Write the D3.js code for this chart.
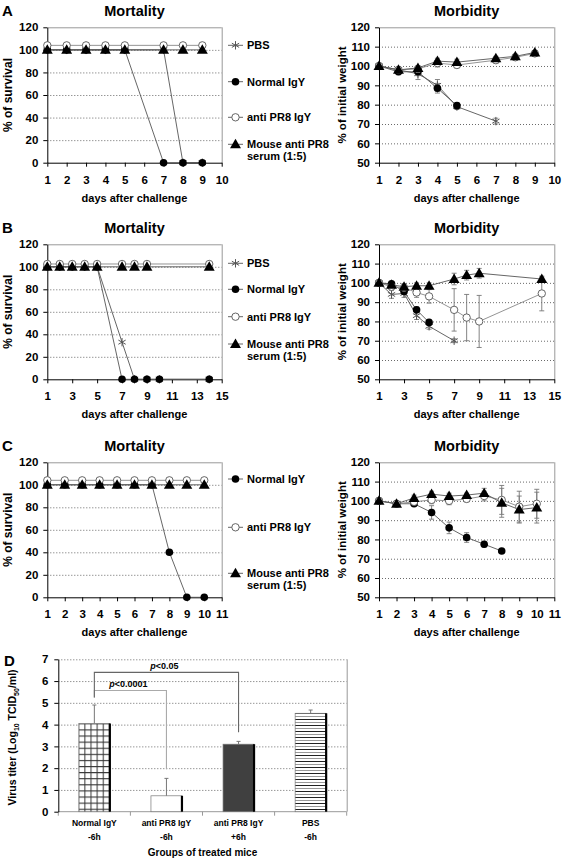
<!DOCTYPE html>
<html><head><meta charset="utf-8">
<script src="https://cdn.jsdelivr.net/npm/d3@7"></script>
<style>
body{margin:0;background:#fff}
svg{display:block;font-family:Arial,"Liberation Sans",sans-serif;font-weight:bold}
</style>
</head><body>
<svg id="c" width="563" height="861"></svg>
<script>
// ---------------- DATA ----------------
// Tick labels
const xTicksA = [1,2,3,4,5,6,7,8,9,10];
const xTicksB = [1,3,5,7,9,11,13,15];
const xTicksC = [1,2,3,4,5,6,7,8,9,10,11];
const yTicksSurv = [0,20,40,60,80,100,120];
const yTicksWeight = [50,60,70,80,90,100,110,120];
const yTicksTiter = [0,1,2,3,4,5,6,7];
const legendLabels = ["PBS","Normal IgY","anti PR8 IgY","Mouse anti PR8|serum (1:5)"];

// Panel A – Mortality
const daysA = [1,2,3,4,5,7,8,9];
const survA_PBS    = [100,100,100,100,100,100,0,0];
const survA_Normal = [100,100,100,100,100,0,0,0];
const survA_Anti   = [104,104,104,104,104,104,104,104];
const survA_Mouse  = [100,100,100,100,100,100,100,100];
// Panel A – Morbidity
const wDaysA_PBS = [1,2,3,4,5,7];
const wA_PBS  = [100,98,96,90,79,71.5];
const eA_PBS  = [0,1.5,3,3,1.5,1.5];
const wDaysA_Normal = [1,2,3,4,5];
const wA_Normal = [100,97,97,88.5,79.5];
const eA_Normal = [0,1.5,2,2.5,1.5];
const wDaysA_Other = [1,2,3,4,5,7,8,9];
const wA_Anti  = [100,98,98.5,101.5,100.5,103,104.5,106.5];
const eA_Anti  = [0,1,1,2,1.5,1.5,1.5,1.5];
const wA_Mouse = [100,98,99,102.5,102,104,105,107];
const eA_Mouse = [0,1,1,1.5,1.5,1,1,1];

// Panel B – Mortality
const daysB = [1,2,3,4,5,7,8,9,10,14];
const survB_PBS    = [100,100,100,100,100,33,0,0,0,0];
const survB_Normal = [100,100,100,100,100,0,0,0,0,0];
const daysB_Other = [1,2,3,4,5,7,8,9,14];
const survB_Anti   = [102.5,102.5,102.5,102.5,102.5,102.5,102.5,102.5,102.5];
const survB_Mouse  = [100,100,100,100,100,100,100,100,100];
// Panel B – Morbidity
const wDaysB_PBS = [1,2,3,4,5,7];
const wB_PBS  = [100,94,94.5,83,77.5,70];
const eB_PBS  = [0,2,2,2,1.5,1];
const wDaysB_Normal = [1,2,3,4,5];
const wB_Normal = [100,99.5,95.5,86,79.5];
const eB_Normal = [0,1,1.5,1.5,1];
const wDaysB_Other = [1,2,3,4,5,7,8,9,14];
const wB_Anti  = [100,98,97.5,95,93,86,82,80,94.5];
const eB_Anti  = [0,1.5,2,2.5,3.5,11,12,13.5,9];
const wB_Mouse = [100,99,98,98.5,98.5,102,104,105,102];
const eB_Mouse = [0,1,1.5,1.5,1.5,3,2.5,2.5,1];

// Panel C – Mortality
const daysC = [1,2,3,4,5,6,7,8,9,10];
const survC_Normal = [100,100,100,100,100,100,100,40,0,0];
const survC_Anti   = [104,104,104,104,104,104,104,104,104,104];
const survC_Mouse  = [100,100,100,100,100,100,100,100,100,100];
// Panel C – Morbidity
const wDaysC_Normal = [1,2,3,4,5,6,7,8];
const wC_Normal = [100,98.5,98.5,94,86,81,77.5,74];
const eC_Normal = [0,1,1,3.5,3,2.5,1.5,0.5];
const wDaysC_Other = [1,2,3,4,5,6,7,8,9,10];
const wC_Anti  = [100,98.5,99.5,100.5,100,101,102.5,100.5,97,98.5];
const eC_Anti  = [0,1,1,2,2,1.5,2.5,7.5,8,7.5];
const wC_Mouse = [100,98.5,101.5,103.5,102.5,103,104,99,95.5,96.5];
const eC_Mouse = [0,1,1.5,1.5,1.5,1,2.5,7.5,7,8];

// Panel D – virus titer
const groupLine1 = ["Normal IgY","anti PR8 IgY","anti PR8 IgY","PBS"];
const groupLine2 = ["-6h","-6h","+6h","-6h"];
const titers   = [4.05,0.73,3.1,4.52];
const titerErr = [0.85,0.8,0.13,0.15];
const patterns = ["grid","white","dark","hlines"];
const pLabels  = ["<0.0001","<0.05"];
const pFrom    = [0,0];
const pTo      = [1,2];
const pLevel   = [5.57,6.4];
const pLeftEnd = [5.25,5.25];
const pRightEnd= [1.95,3.65];

// ---------------- DRAW ----------------
const svg = d3.select("#c");
const lineCol = "#555";

function marker(g, type, cx, cy){
  if(type==="star"){
    const s=4.2;
    const m = g.append("g").attr("stroke","#555").attr("stroke-width",1);
    m.append("line").attr("x1",cx).attr("x2",cx).attr("y1",cy-s).attr("y2",cy+s);
    m.append("line").attr("x1",cx-s*0.87).attr("x2",cx+s*0.87).attr("y1",cy-s*0.5).attr("y2",cy+s*0.5);
    m.append("line").attr("x1",cx-s*0.87).attr("x2",cx+s*0.87).attr("y1",cy+s*0.5).attr("y2",cy-s*0.5);
  } else if(type==="dot"){
    g.append("circle").attr("cx",cx).attr("cy",cy).attr("r",3.8).attr("fill","#000");
  } else if(type==="ring"){
    g.append("circle").attr("cx",cx).attr("cy",cy).attr("r",3.7).attr("fill","#fff").attr("stroke","#555").attr("stroke-width",0.9);
  } else if(type==="tri"){
    g.append("path").attr("d",d3.symbol(d3.symbolTriangle,52)()).attr("transform",`translate(${cx},${cy+0.8})`).attr("fill","#000");
  }
}

function linePanel(cfg){
  const x = d3.scaleLinear().domain(cfg.xDomain).range([cfg.x0,cfg.x1]);
  const y = d3.scaleLinear().domain(cfg.yDomain).range([cfg.y1,cfg.y0]);
  const g = svg.append("g");
  g.append("text").attr("x",(cfg.x0+cfg.x1)/2).attr("y",cfg.y0-11).attr("text-anchor","middle")
    .attr("font-size",14.5).text(cfg.title);
  if(cfg.letter) g.append("text").attr("x",2).attr("y",cfg.y0-11).attr("font-size",15).text(cfg.letter);
  // top border
  g.append("line").attr("x1",cfg.x0).attr("x2",cfg.x1).attr("y1",cfg.y0+0.5).attr("y2",cfg.y0+0.5)
    .attr("stroke","#999").attr("stroke-width",1);
  // grid
  g.selectAll(".gl").data(cfg.yTicks.slice(1,-1)).enter().append("line")
    .attr("x1",cfg.x0).attr("x2",cfg.x1).attr("y1",d=>y(d)+0.5).attr("y2",d=>y(d)+0.5)
    .attr("stroke","#444").attr("stroke-width",0.8).attr("stroke-dasharray","1,2");
  g.append("line").attr("x1",cfg.x1+0.5).attr("x2",cfg.x1+0.5).attr("y1",cfg.y0).attr("y2",cfg.y1)
    .attr("stroke","#999").attr("stroke-width",1);
  const ya = g.append("g").attr("transform",`translate(${cfg.x0},0)`)
    .call(d3.axisLeft(y).tickValues(cfg.yTicks).tickFormat(d3.format("d")).tickSize(4).tickPadding(5).tickSizeOuter(0));
  const xa = g.append("g").attr("transform",`translate(0,${cfg.y1})`)
    .call(d3.axisBottom(x).tickValues(cfg.xTicks).tickFormat(d3.format("d")).tickSize(4).tickPadding(9).tickSizeOuter(0));
  [ya,xa].forEach(a=>{a.attr("font-family",null).attr("font-size",null);
    a.selectAll("text").attr("font-size",11.5).attr("fill","#000");
    a.selectAll("line,path").attr("stroke","#000");});
  g.append("text").attr("x",(cfg.x0+cfg.x1)/2).attr("y",cfg.y1+39).attr("text-anchor","middle")
    .attr("font-size",11).text("days after challenge");
  g.append("text").attr("transform",`translate(${cfg.ylx},${(cfg.y0+cfg.y1)/2}) rotate(-90)`)
    .attr("text-anchor","middle").attr("font-size",cfg.ylSize).text(cfg.ylabel);
  const lineGen = d3.line().x(d=>x(d[0])).y(d=>y(d[1]));
  cfg.series.forEach(s=>{
    const pts = s.days.map((d,i)=>[d,s.vals[i]]);
    g.append("path").attr("d",lineGen(pts)).attr("fill","none").attr("stroke",s.color||lineCol).attr("stroke-width",0.9);
  });
  cfg.series.forEach(s=>{
    if(!s.errs) return;
    s.days.forEach((d,i)=>{
      const e=s.errs[i]; if(!e) return;
      const cx=x(d);
      const eg=g.append("g").attr("stroke","#777").attr("stroke-width",0.9);
      eg.append("line").attr("x1",cx).attr("x2",cx).attr("y1",y(s.vals[i]+e)).attr("y2",y(s.vals[i]-e));
      eg.append("line").attr("x1",cx-2.5).attr("x2",cx+2.5).attr("y1",y(s.vals[i]+e)).attr("y2",y(s.vals[i]+e));
      eg.append("line").attr("x1",cx-2.5).attr("x2",cx+2.5).attr("y1",y(s.vals[i]-e)).attr("y2",y(s.vals[i]-e));
    });
  });
  cfg.series.forEach(s=>{
    const mg=g.append("g");
    s.days.forEach((d,i)=>marker(mg,s.marker,x(d),y(s.vals[i])));
  });
  if(cfg.legend){
    cfg.legend.forEach(l=>{
      const lg=g.append("g");
      lg.append("line").attr("x1",228).attr("x2",243).attr("y1",l.y).attr("y2",l.y).attr("stroke",lineCol).attr("stroke-width",0.9);
      marker(lg,l.marker,235.5,l.y);
      const parts = l.label.split("|");
      parts.forEach((p,k)=>lg.append("text").attr("x",247).attr("y",l.y+4+k*11.5).attr("font-size",11).text(p));
    });
  }
}

const L = {x0:47.3,x1:221.7}, R = {x0:379,x1:554.3};
const rows = [{y0:27.3,y1:162.7},{y0:244.3,y1:379.3},{y0:462.3,y1:597.3}];

linePanel({...L,...rows[0],letter:"A",title:"Mortality",xDomain:[1,10],yDomain:[0,120],xTicks:xTicksA,yTicks:yTicksSurv,
  ylabel:"% of survival",ylx:12,ylSize:12,
  series:[{days:daysA,vals:survA_PBS,marker:"star"},{days:daysA,vals:survA_Normal,marker:"dot"},
          {days:daysA,vals:survA_Anti,marker:"ring",color:"#888"},{days:daysA,vals:survA_Mouse,marker:"tri"}],
  legend:[{y:45.3,marker:"star",label:legendLabels[0]},{y:81.7,marker:"dot",label:legendLabels[1]},
          {y:117.3,marker:"ring",label:legendLabels[2]},{y:144.3,marker:"tri",label:legendLabels[3]}]});
linePanel({...R,...rows[0],title:"Morbidity",xDomain:[1,10],yDomain:[50,120],xTicks:xTicksA,yTicks:yTicksWeight,
  ylabel:"% of initial weight",ylx:346,ylSize:11.5,
  series:[{days:wDaysA_PBS,vals:wA_PBS,errs:eA_PBS,marker:"star"},{days:wDaysA_Normal,vals:wA_Normal,errs:eA_Normal,marker:"dot"},
          {days:wDaysA_Other,vals:wA_Anti,errs:eA_Anti,marker:"ring",color:"#888"},{days:wDaysA_Other,vals:wA_Mouse,errs:eA_Mouse,marker:"tri"}]});
linePanel({...L,...rows[1],letter:"B",title:"Mortality",xDomain:[1,15],yDomain:[0,120],xTicks:xTicksB,yTicks:yTicksSurv,
  ylabel:"% of survival",ylx:12,ylSize:12,
  series:[{days:daysB,vals:survB_PBS,marker:"star"},{days:daysB,vals:survB_Normal,marker:"dot"},
          {days:daysB_Other,vals:survB_Anti,marker:"ring",color:"#888"},{days:daysB_Other,vals:survB_Mouse,marker:"tri"}],
  legend:[{y:263.3,marker:"star",label:legendLabels[0]},{y:289.3,marker:"dot",label:legendLabels[1]},
          {y:316.7,marker:"ring",label:legendLabels[2]},{y:344,marker:"tri",label:legendLabels[3]}]});
linePanel({...R,...rows[1],title:"Morbidity",xDomain:[1,15],yDomain:[50,120],xTicks:xTicksB,yTicks:yTicksWeight,
  ylabel:"% of initial weight",ylx:346,ylSize:11.5,
  series:[{days:wDaysB_PBS,vals:wB_PBS,errs:eB_PBS,marker:"star"},{days:wDaysB_Normal,vals:wB_Normal,errs:eB_Normal,marker:"dot"},
          {days:wDaysB_Other,vals:wB_Anti,errs:eB_Anti,marker:"ring",color:"#888"},{days:wDaysB_Other,vals:wB_Mouse,errs:eB_Mouse,marker:"tri"}]});
linePanel({...L,...rows[2],letter:"C",title:"Mortality",xDomain:[1,11],yDomain:[0,120],xTicks:xTicksC,yTicks:yTicksSurv,
  ylabel:"% of survival",ylx:12,ylSize:12,
  series:[{days:daysC,vals:survC_Normal,marker:"dot"},
          {days:daysC,vals:survC_Anti,marker:"ring",color:"#888"},{days:daysC,vals:survC_Mouse,marker:"tri"}],
  legend:[{y:479,marker:"dot",label:legendLabels[1]},
          {y:527.3,marker:"ring",label:legendLabels[2]},{y:573.3,marker:"tri",label:legendLabels[3]}]});
linePanel({...R,...rows[2],title:"Morbidity",xDomain:[1,11],yDomain:[50,120],xTicks:xTicksC,yTicks:yTicksWeight,
  ylabel:"% of initial weight",ylx:346,ylSize:11.5,
  series:[{days:wDaysC_Normal,vals:wC_Normal,errs:eC_Normal,marker:"dot"},
          {days:wDaysC_Other,vals:wC_Anti,errs:eC_Anti,marker:"ring",color:"#888"},{days:wDaysC_Other,vals:wC_Mouse,errs:eC_Mouse,marker:"tri"}]});

// ---------------- D ----------------
(function(){
  const x0=58.3,x1=346.7,y0=659.3,y1=811.7;
  const defs=svg.append("defs");
  const pg=defs.append("pattern").attr("id","grid").attr("patternUnits","userSpaceOnUse").attr("width",6.1).attr("height",6.1).attr("x",78.3).attr("y",723.3);
  pg.append("rect").attr("width",6.1).attr("height",6.1).attr("fill","#fff");
  pg.append("path").attr("d","M0.5,0V6.1M0,0.5H6.1").attr("stroke","#333").attr("stroke-width",1);
  const ph=defs.append("pattern").attr("id","hlines").attr("patternUnits","userSpaceOnUse").attr("width",6).attr("height",6).attr("x",0).attr("y",713);
  ph.append("rect").attr("width",6).attr("height",6).attr("fill","#fff");
  ph.append("path").attr("d","M0,0.5H6").attr("stroke","#222").attr("stroke-width",1);
  ph.append("path").attr("d","M0,3.5H6").attr("stroke","#999").attr("stroke-width",1);
  const fills={grid:"url(#grid)",white:"#fff",dark:"#404040",hlines:"url(#hlines)"};

  const x=d3.scaleBand().domain(d3.range(titers.length)).range([x0,x1]);
  const y=d3.scaleLinear().domain([0,7]).range([y1,y0]);
  const g=svg.append("g");
  g.append("text").attr("x",4).attr("y",666).attr("font-size",15).text("D");
  g.selectAll(".gl").data(yTicksTiter.slice(1)).enter().append("line")
    .attr("x1",x0).attr("x2",x1).attr("y1",d=>y(d)+0.5).attr("y2",d=>y(d)+0.5)
    .attr("stroke","#444").attr("stroke-width",0.8).attr("stroke-dasharray","1,2");
  g.append("line").attr("x1",x1+0.5).attr("x2",x1+0.5).attr("y1",y0).attr("y2",y1).attr("stroke","#999");
  const xa=g.append("g").attr("transform",`translate(0,${y1})`);
  xa.append("line").attr("x1",x0).attr("x2",x1).attr("stroke","#999");
  xa.selectAll(".t").data(d3.range(titers.length+1)).enter().append("line")
    .attr("x1",i=>x0+i*x.bandwidth()).attr("x2",i=>x0+i*x.bandwidth()).attr("y1",0).attr("y2",4).attr("stroke","#999");
  const ya=g.append("g").attr("transform",`translate(${x0},0)`)
    .call(d3.axisLeft(y).tickValues(yTicksTiter).tickFormat(d3.format("d")).tickSize(4).tickPadding(6).tickSizeOuter(0));
  ya.attr("font-family",null).attr("font-size",null);
  ya.selectAll("text").attr("font-size",11.5).attr("fill","#000");
  ya.selectAll("line,path").attr("stroke","#000");
  const bw=x.bandwidth()*0.43;
  titers.forEach((v,i)=>{
    const cx=x(i)+x.bandwidth()/2;
    g.append("rect").attr("x",cx-bw/2).attr("y",y(v)).attr("width",bw).attr("height",y(0)-y(v))
      .attr("fill",fills[patterns[i]]).attr("stroke","#777").attr("stroke-width",0.7);
    g.append("line").attr("x1",cx+bw/2).attr("x2",cx+bw/2).attr("y1",y(v)).attr("y2",y(0)).attr("stroke","#000").attr("stroke-width",2.2);
    const eg=g.append("g").attr("stroke","#777").attr("stroke-width",1);
    eg.append("line").attr("x1",cx).attr("x2",cx).attr("y1",y(v)).attr("y2",y(v+titerErr[i]));
    eg.append("line").attr("x1",cx-2).attr("x2",cx+2).attr("y1",y(v+titerErr[i])).attr("y2",y(v+titerErr[i]));
    g.append("text").attr("x",cx).attr("y",826).attr("text-anchor","middle").attr("font-size",8.5).text(groupLine1[i]);
    g.append("text").attr("x",cx).attr("y",839.5).attr("text-anchor","middle").attr("font-size",8.5).text(groupLine2[i]);
  });
  const bcol=["#aaa","#666"];
  pLabels.forEach((lab,k)=>{
    const xa_=x(pFrom[k])+x.bandwidth()/2, xb_=x(pTo[k])+x.bandwidth()/2;
    g.append("path").attr("d",`M${xa_},${y(pLeftEnd[k])}V${y(pLevel[k])}H${xb_}V${y(pRightEnd[k])}`)
      .attr("fill","none").attr("stroke",bcol[k]).attr("stroke-width",1.1);
    const t=g.append("text").attr("x",(xa_+xb_)/2-2).attr("y",y(pLevel[k])-3.5).attr("text-anchor","middle").attr("font-size",9);
    t.append("tspan").attr("font-style","italic").text("p");
    t.append("tspan").text(lab);
  });
  g.append("text").attr("x",(x0+x1)/2).attr("y",856).attr("text-anchor","middle").attr("font-size",10).text("Groups of treated mice");
  const yl=g.append("text").attr("transform",`translate(16,${(y0+y1)/2+2}) rotate(-90)`).attr("text-anchor","middle").attr("font-size",10.5);
  yl.append("tspan").text("Virus titer (Log");
  yl.append("tspan").attr("font-size",7).attr("dy",2.5).text("10");
  yl.append("tspan").attr("dy",-2.5).text(" TCID");
  yl.append("tspan").attr("font-size",7).attr("dy",2.5).text("50");
  yl.append("tspan").attr("dy",-2.5).text("/ml)");
})();
</script>
</body></html>
